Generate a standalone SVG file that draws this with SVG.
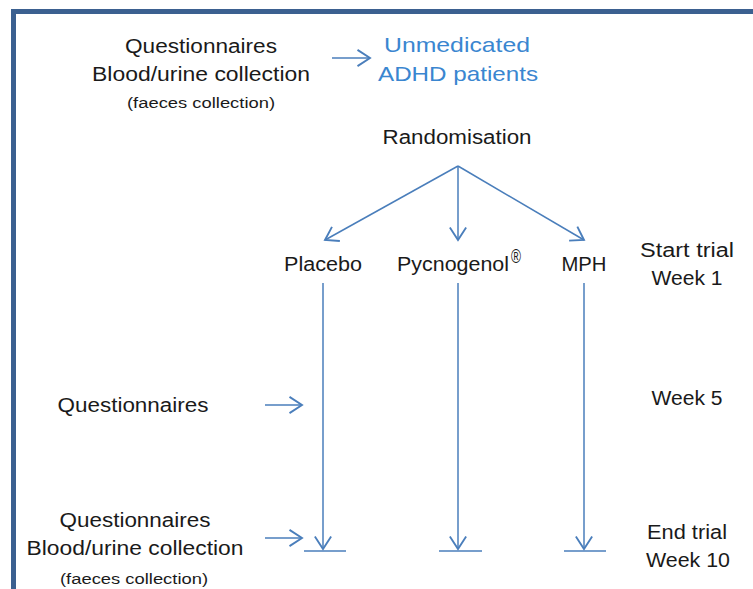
<svg xmlns="http://www.w3.org/2000/svg" width="753" height="589" viewBox="0 0 753 589">
<defs>
<marker id="arr" markerUnits="userSpaceOnUse" markerWidth="20" markerHeight="20" refX="0" refY="0" viewBox="-12 -8 14 16" orient="auto" overflow="visible">
<path d="M -10 -6.5 L 0 0 L -10 6.5" fill="none" stroke="#4a7ebb" stroke-width="1.5"/>
</marker>
<style>
.t{font-family:"Liberation Sans",Arial,sans-serif;font-size:20px;fill:#1a1a1a;text-anchor:middle}
.s{font-size:14px}
.b{fill:#3a86d0;font-size:21px}
.c{stroke:#4a7ebb;stroke-width:1.5;fill:none}
.ca{stroke:#4a7ebb;stroke-width:1.5;fill:none;marker-end:url(#arr)}
</style>
</defs>
<rect x="0" y="0" width="753" height="589" fill="#ffffff"/>
<rect id="frame" x="13.5" y="11.5" width="760" height="600" fill="none" stroke="#3b6090" stroke-width="5"/>
<g id="connectors">
<line class="ca" x1="332" y1="58" x2="370" y2="58"/>
<line class="ca" x1="458" y1="166" x2="325" y2="240"/>
<line class="ca" x1="458" y1="166" x2="458" y2="240"/>
<line class="ca" x1="458" y1="166" x2="584" y2="240"/>
<line class="ca" x1="323" y1="283" x2="323" y2="549"/>
<line class="ca" x1="458" y1="283" x2="458" y2="549"/>
<line class="ca" x1="584" y1="283" x2="584" y2="549"/>
<line class="c" x1="304" y1="551" x2="346" y2="551"/>
<line class="c" x1="439" y1="551" x2="482" y2="551"/>
<line class="c" x1="564" y1="551" x2="606" y2="551"/>
<line class="ca" x1="265" y1="405" x2="302" y2="405"/>
<line class="ca" x1="265" y1="538" x2="302" y2="538"/>
</g>
<g id="baseline-tests">
<text class="t" x="201" y="53" textLength="152" lengthAdjust="spacingAndGlyphs">Questionnaires</text>
<text class="t" x="201" y="81" textLength="218" lengthAdjust="spacingAndGlyphs">Blood/urine collection</text>
<text class="t s" x="201" y="108" textLength="148" lengthAdjust="spacingAndGlyphs">(faeces collection)</text>
</g>
<g id="patients">
<text class="t b" x="457" y="52" textLength="146" lengthAdjust="spacingAndGlyphs">Unmedicated</text>
<text class="t b" x="458" y="81" textLength="160" lengthAdjust="spacingAndGlyphs">ADHD patients</text>
</g>
<g id="randomisation">
<text class="t" x="457" y="144" textLength="149" lengthAdjust="spacingAndGlyphs">Randomisation</text>
</g>
<g id="placebo">
<text class="t" x="323" y="271" textLength="78" lengthAdjust="spacingAndGlyphs">Placebo</text>
</g>
<g id="pycnogenol">
<text class="t" x="453" y="271" textLength="112" lengthAdjust="spacingAndGlyphs">Pycnogenol</text>
<text class="t" x="516" y="263" font-size="13" textLength="10" lengthAdjust="spacingAndGlyphs">®</text>
</g>
<g id="mph">
<text class="t" x="584" y="271" textLength="45" lengthAdjust="spacingAndGlyphs">MPH</text>
</g>
<g id="start-trial">
<text class="t" x="687" y="257" textLength="94" lengthAdjust="spacingAndGlyphs">Start trial</text>
<text class="t" x="687" y="285" textLength="71" lengthAdjust="spacingAndGlyphs">Week 1</text>
</g>
<g id="week5-tests">
<text class="t" x="133" y="412" textLength="151" lengthAdjust="spacingAndGlyphs">Questionnaires</text>
</g>
<g id="week5">
<text class="t" x="687" y="405" textLength="71" lengthAdjust="spacingAndGlyphs">Week 5</text>
</g>
<g id="end-tests">
<text class="t" x="135" y="527" textLength="151" lengthAdjust="spacingAndGlyphs">Questionnaires</text>
<text class="t" x="135" y="555" textLength="217" lengthAdjust="spacingAndGlyphs">Blood/urine collection</text>
<text class="t s" x="134" y="584" textLength="148" lengthAdjust="spacingAndGlyphs">(faeces collection)</text>
</g>
<g id="end-trial">
<text class="t" x="687" y="539" textLength="80" lengthAdjust="spacingAndGlyphs">End trial</text>
<text class="t" x="688" y="567" textLength="84" lengthAdjust="spacingAndGlyphs">Week 10</text>
</g>
</svg>
